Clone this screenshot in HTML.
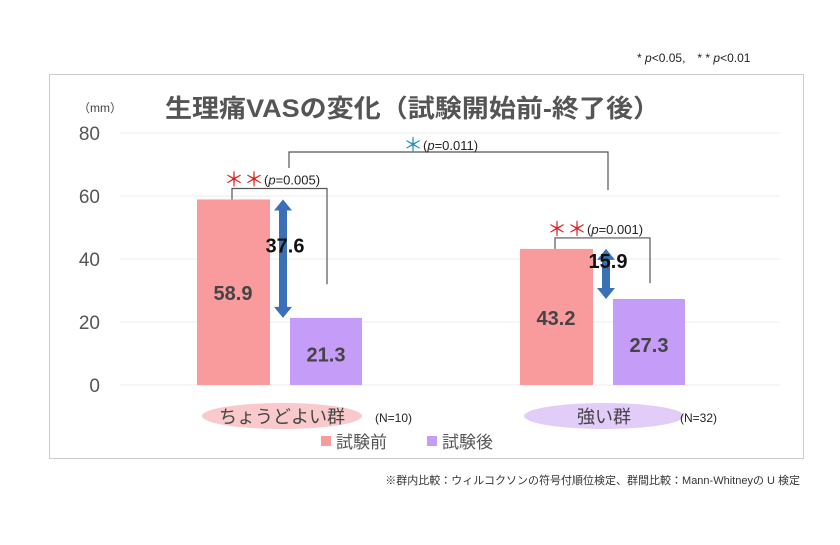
<!DOCTYPE html>
<html><head><meta charset="utf-8"><style>
body{margin:0;background:#fff;width:840px;height:540px;overflow:hidden;font-family:"Liberation Sans","Noto Sans CJK JP",sans-serif}
</style></head><body>
<svg width="840" height="540" xmlns="http://www.w3.org/2000/svg" font-family="Liberation Sans, Noto Sans CJK JP, sans-serif">
<text x="637" y="62" font-size="12" fill="#222">* <tspan font-style="italic">p</tspan>&lt;0.05,　* * <tspan font-style="italic">p</tspan>&lt;0.01</text>
<rect x="49.5" y="74.5" width="754" height="384" fill="#fff" stroke="#ccc"/>
<text x="165" y="117" font-size="25" font-weight="bold" fill="#555" textLength="495" lengthAdjust="spacingAndGlyphs">生理痛VASの変化（試験開始前-終了後）</text>
<text x="78" y="112" font-size="12" fill="#444">（mm）</text>
<g id="grid"></g><g id="bars"></g><g id="ann"></g>
<ellipse cx="282" cy="416" rx="80" ry="13" fill="#f9c9cb"/>
<text x="282" y="423" font-size="18" text-anchor="middle" fill="#444">ちょうどよい群</text>
<text x="375" y="422" font-size="12" fill="#222">(N=10)</text>
<ellipse cx="604" cy="416" rx="80" ry="13" fill="#e2cdf9"/>
<text x="604" y="423" font-size="18" text-anchor="middle" fill="#444">強い群</text>
<text x="680" y="422" font-size="12" fill="#222">(N=32)</text>
<rect x="321" y="436" width="10" height="10" fill="#f99a9c"/>
<text x="336" y="448" font-size="17" fill="#555">試験前</text>
<rect x="427" y="436" width="10" height="10" fill="#c59cf7"/>
<text x="442" y="448" font-size="17" fill="#555">試験後</text>
<text x="800" y="484" font-size="11" text-anchor="end" fill="#333">※群内比較：ウィルコクソンの符号付順位検定、群間比較：Mann-Whitneyの U 検定</text>
</svg>
<script>
const ticks=[0,20,40,60,80];
const pre=[58.9,43.2];
const post=[21.3,27.3];
const diffs=[37.6,15.9];
const pvals=["0.005","0.001"];
const betweenP="0.011";
const NS="http://www.w3.org/2000/svg";
const y=v=>385-v*(252/80);
const gx=[197,520];
function mk(t,a,p){const e=document.createElementNS(NS,t);for(const k in a)e.setAttribute(k,a[k]);document.getElementById(p).appendChild(e);return e;}
ticks.forEach(t=>{
 const l=mk('line',{x1:120,x2:780,y1:y(t),y2:y(t),stroke:'#eee'},'grid');
 
 
 const tx=mk('text',{x:100,y:y(t)+7,'font-size':19,'text-anchor':'end',fill:'#555'},'grid');tx.textContent=t;
 
 
});
pre.forEach((v,i)=>{
 const x=gx[i];
 const b1=mk('rect',{x:x,y:y(v),width:73,height:385-y(v),fill:'#f99a9c'},'bars');
 
 
 const t1=mk('text',{x:x+36,y:(y(v)+385)/2+8,'font-size':20,'font-weight':'bold','text-anchor':'middle',fill:'#444'},'bars');t1.textContent=v.toFixed(1);
 
 
 const w=post[i];
 const b2=mk('rect',{x:x+93,y:y(w),width:72,height:385-y(w),fill:'#c59cf7'},'bars');
 
 
 const t2=mk('text',{x:x+129,y:(y(w)+385)/2+10,'font-size':20,'font-weight':'bold','text-anchor':'middle',fill:'#444'},'bars');t2.textContent=w.toFixed(1);
 
 
 const ax=x+86,ya=y(v),yb=y(w);
 const ar=mk('path',{d:`M${ax} ${ya} l-9 11 h5 V${yb-11} h-5 l9 11 l9 -11 h-5 V${ya+11} h5 Z`,fill:'#3a70b8'},'ann');
 
 
 const dt=mk('text',{x:ax+2,y:(ya+yb)/2-6,'font-size':20,'font-weight':'bold','text-anchor':'middle',fill:'#111'},'ann');dt.textContent=diffs[i].toFixed(1);
 
 
 const top=y(v)-11, lx=x+35, rx=x+130;
 const br=mk('path',{d:`M${lx} ${y(v)} V${top} H${rx} V${top+(yb-top)*0.74}`,fill:'none',stroke:'#555','stroke-width':1.2},'ann');
 
 
 const st=mk('text',{x:lx-8,y:top-4,'font-size':13,fill:'#222'},'ann');
 st.innerHTML=`<tspan fill="#e02020" font-size="20" dy="2">＊＊</tspan><tspan dy="-2">(</tspan><tspan font-style="italic">p</tspan>=${pvals[i]})`;
 
 
});
const bb=mk('path',{d:`M289 168 V152 H608 V190`,fill:'none',stroke:'#555','stroke-width':1.2},'ann');


const bt=mk('text',{x:403,y:150,'font-size':13,fill:'#222'},'ann');
bt.innerHTML=`<tspan fill="#1f8fd0" font-size="20" dy="2">＊</tspan><tspan dy="-2">(</tspan><tspan font-style="italic">p</tspan>=${betweenP})`;


</script>
</body></html>
